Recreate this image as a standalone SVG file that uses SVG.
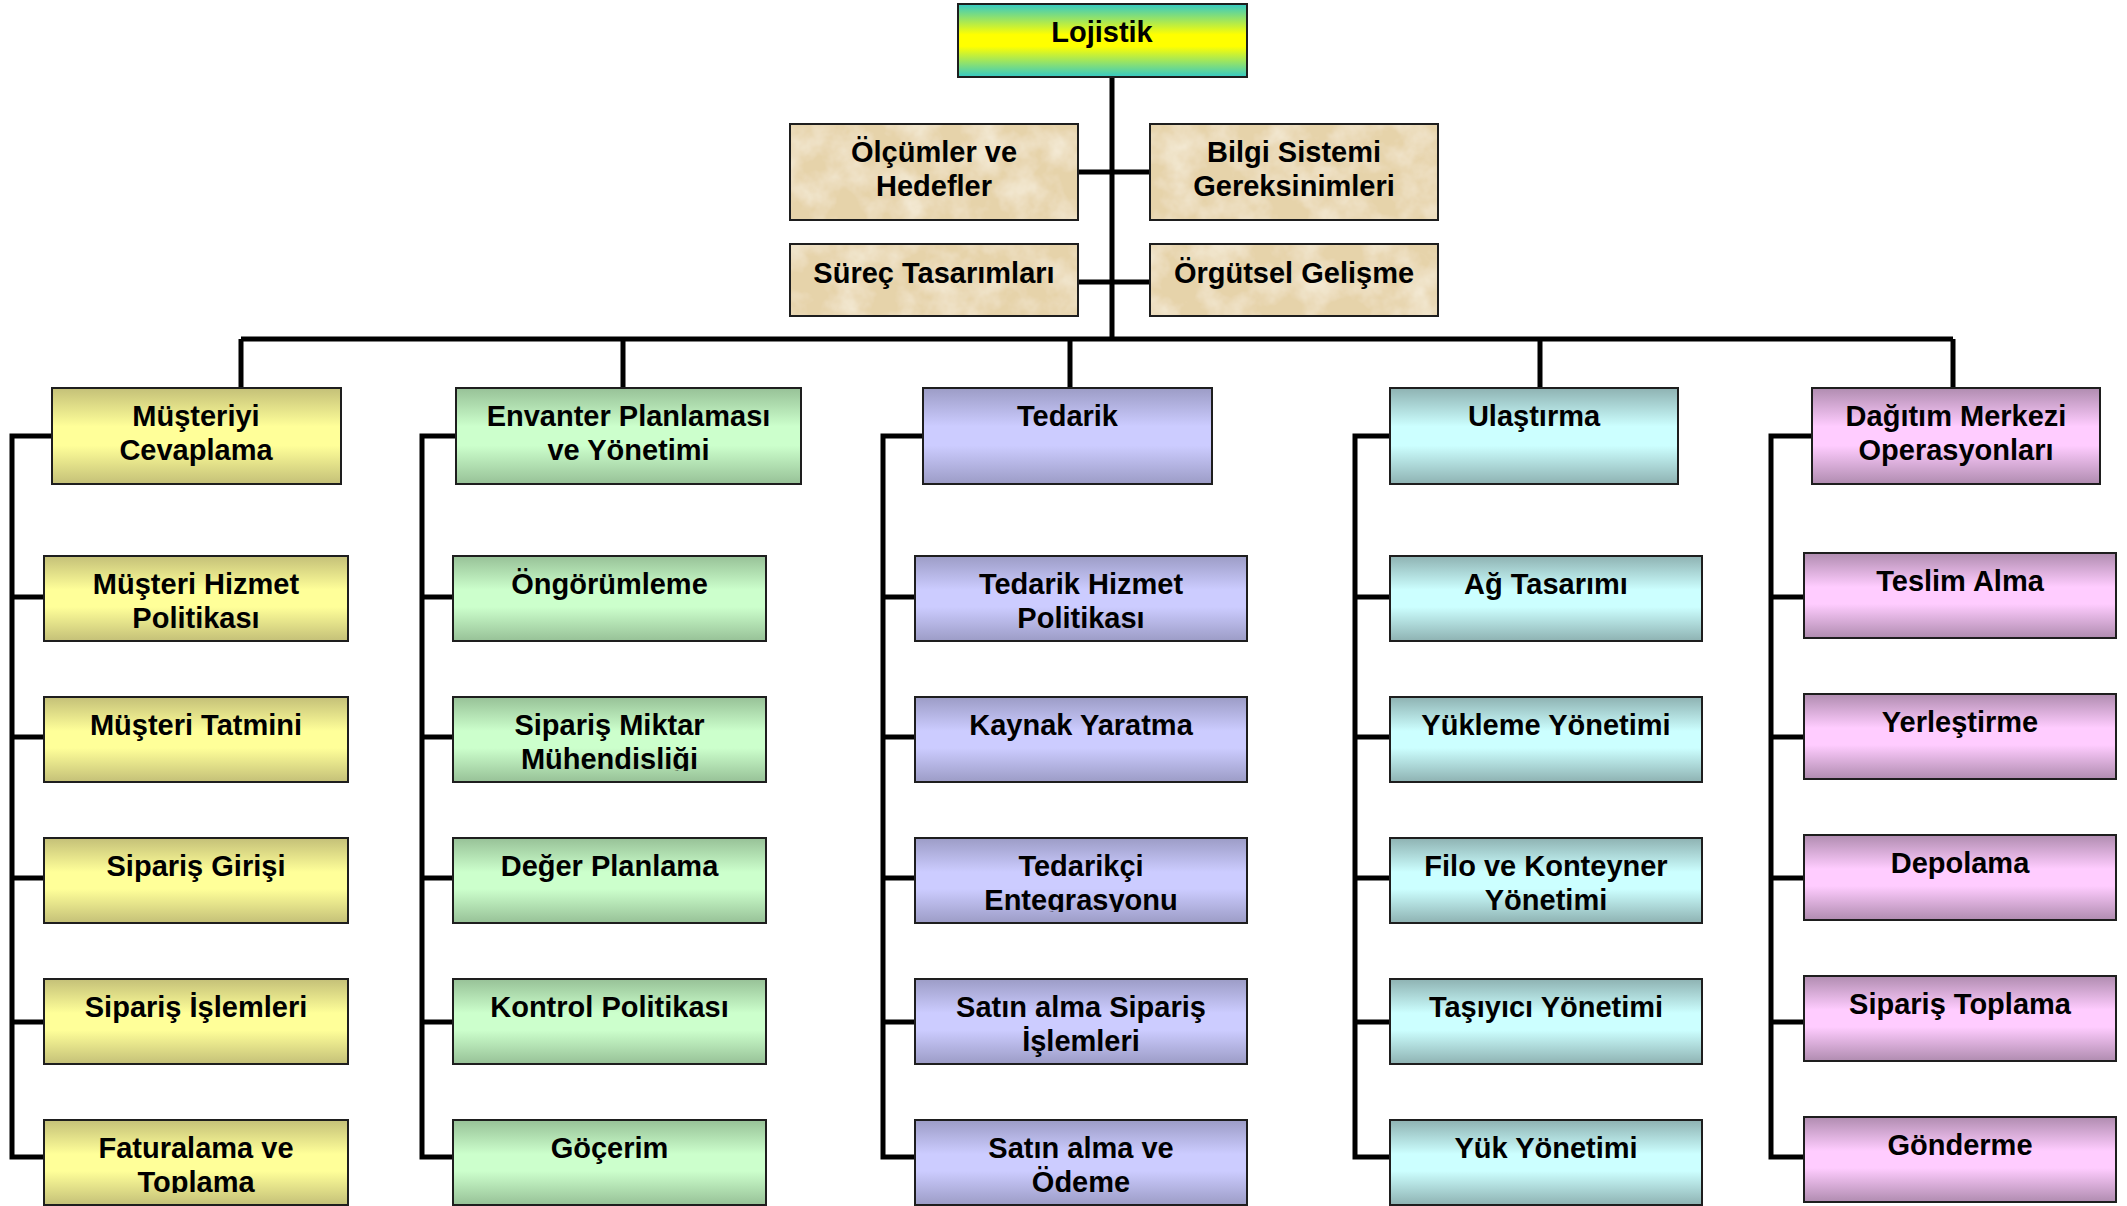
<svg xmlns="http://www.w3.org/2000/svg" width="2127" height="1206" viewBox="0 0 2127 1206">
  <style>
    .box { stroke: #1e1e1e; stroke-width: 2; }
    .lbl { font-family: "Liberation Sans", Arial, sans-serif; font-weight: bold; font-size: 29px; fill: #000; text-anchor: middle; }
    .wire { fill: none; stroke: #000; stroke-width: 5; stroke-linejoin: miter; }
  </style>
  <defs>
    <linearGradient id="gTop" x1="0" y1="0" x2="0" y2="1">
      <stop offset="0" stop-color="#33c9c6"/>
      <stop offset="0.42" stop-color="#ffff00"/>
      <stop offset="0.58" stop-color="#ffff00"/>
      <stop offset="1" stop-color="#33c9c6"/>
    </linearGradient>
    <linearGradient id="gYellow" x1="0" y1="0" x2="0" y2="1">
      <stop offset="0" stop-color="#c4c078"/>
      <stop offset="0.4" stop-color="#ffff99"/>
      <stop offset="0.6" stop-color="#ffff99"/>
      <stop offset="1" stop-color="#c4c078"/>
    </linearGradient>
    <linearGradient id="gGreen" x1="0" y1="0" x2="0" y2="1">
      <stop offset="0" stop-color="#97c197"/>
      <stop offset="0.4" stop-color="#ccffcc"/>
      <stop offset="0.6" stop-color="#ccffcc"/>
      <stop offset="1" stop-color="#97c197"/>
    </linearGradient>
    <linearGradient id="gLilac" x1="0" y1="0" x2="0" y2="1">
      <stop offset="0" stop-color="#9c9cc6"/>
      <stop offset="0.4" stop-color="#ccccff"/>
      <stop offset="0.6" stop-color="#ccccff"/>
      <stop offset="1" stop-color="#9c9cc6"/>
    </linearGradient>
    <linearGradient id="gCyan" x1="0" y1="0" x2="0" y2="1">
      <stop offset="0" stop-color="#8eb2b2"/>
      <stop offset="0.4" stop-color="#ccffff"/>
      <stop offset="0.6" stop-color="#ccffff"/>
      <stop offset="1" stop-color="#8eb2b2"/>
    </linearGradient>
    <linearGradient id="gPink" x1="0" y1="0" x2="0" y2="1">
      <stop offset="0" stop-color="#b08cb0"/>
      <stop offset="0.4" stop-color="#ffccff"/>
      <stop offset="0.6" stop-color="#ffccff"/>
      <stop offset="1" stop-color="#b08cb0"/>
    </linearGradient>
    <!-- mottled paper look for the support boxes -->
    <filter id="parchment" x="0" y="0" width="1" height="1">
      <feTurbulence type="fractalNoise" baseFrequency="0.03" numOctaves="4" seed="7" result="noise"/>
      <feColorMatrix in="noise" type="matrix" values="0 0 0 0 0.96  0 0 0 0 0.91  0 0 0 0 0.80  1.3 0 0 0 -0.5" result="spots"/>
      <feMerge>
        <feMergeNode in="SourceGraphic"/>
        <feMergeNode in="spots"/>
      </feMerge>
    </filter>
    <clipPath id="clipFat"><rect x="44" y="1120" width="304" height="73"/></clipPath>
    <clipPath id="clipMik"><rect x="453" y="697" width="313" height="74"/></clipPath>
    <clipPath id="clipEnt"><rect x="915" y="838" width="332" height="74"/></clipPath>
  </defs>

  <!-- connectors -->
  <g id="connectors">
    <path class="wire" d="M1112,77 V339"/>
    <path class="wire" d="M1078,172 H1150 M1078,282 H1150"/>
    <path class="wire" d="M241,339 H1953"/>
    <path class="wire" d="M241,339 V388 M623,339 V388 M1070,339 V388 M1540,339 V388 M1953,339 V388"/>
    <!-- column 1 -->
    <path class="wire" d="M52,436 H12 V1157 H44 M12,597 H44 M12,737 H44 M12,878 H44 M12,1022 H44"/>
    <!-- column 2 -->
    <path class="wire" d="M456,436 H422 V1157 H453 M422,597 H453 M422,737 H453 M422,878 H453 M422,1022 H453"/>
    <!-- column 3 -->
    <path class="wire" d="M923,436 H883 V1157 H915 M883,597 H915 M883,737 H915 M883,878 H915 M883,1022 H915"/>
    <!-- column 4 -->
    <path class="wire" d="M1390,436 H1355 V1157 H1390 M1355,597 H1390 M1355,737 H1390 M1355,878 H1390 M1355,1022 H1390"/>
    <!-- column 5 -->
    <path class="wire" d="M1812,436 H1771 V1157 H1804 M1771,597 H1804 M1771,737 H1804 M1771,878 H1804 M1771,1022 H1804"/>
  </g>

  <!-- root -->
  <g id="lojistik">
    <rect class="box" x="958" y="4" width="289" height="73" fill="url(#gTop)"/>
    <text class="lbl" x="1102" y="42">Lojistik</text>
  </g>

  <!-- support boxes -->
  <g id="olcumler">
    <rect class="box" x="790" y="124" width="288" height="96" fill="#e6d3aa" filter="url(#parchment)"/>
    <rect class="box" x="790" y="124" width="288" height="96" fill="none"/>
    <text class="lbl" x="934" y="162">Ölçümler ve</text>
    <text class="lbl" x="934" y="196">Hedefler</text>
  </g>
  <g id="bilgi-sistemi">
    <rect class="box" x="1150" y="124" width="288" height="96" fill="#e6d3aa" filter="url(#parchment)"/>
    <rect class="box" x="1150" y="124" width="288" height="96" fill="none"/>
    <text class="lbl" x="1294" y="162">Bilgi Sistemi</text>
    <text class="lbl" x="1294" y="196">Gereksinimleri</text>
  </g>
  <g id="surec">
    <rect class="box" x="790" y="244" width="288" height="72" fill="#e6d3aa" filter="url(#parchment)"/>
    <rect class="box" x="790" y="244" width="288" height="72" fill="none"/>
    <text class="lbl" x="934" y="283">Süreç Tasarımları</text>
  </g>
  <g id="orgutsel">
    <rect class="box" x="1150" y="244" width="288" height="72" fill="#e6d3aa" filter="url(#parchment)"/>
    <rect class="box" x="1150" y="244" width="288" height="72" fill="none"/>
    <text class="lbl" x="1294" y="283">Örgütsel Gelişme</text>
  </g>

  <!-- column 1: customer response -->
  <g id="musteriyi-cevaplama">
    <rect class="box" x="52" y="388" width="289" height="96" fill="url(#gYellow)"/>
    <text class="lbl" x="196" y="426">Müşteriyi</text>
    <text class="lbl" x="196" y="460">Cevaplama</text>
  </g>
  <g id="musteri-hizmet">
    <rect class="box" x="44" y="556" width="304" height="85" fill="url(#gYellow)"/>
    <text class="lbl" x="196" y="594">Müşteri Hizmet</text>
    <text class="lbl" x="196" y="628">Politikası</text>
  </g>
  <g id="musteri-tatmini">
    <rect class="box" x="44" y="697" width="304" height="85" fill="url(#gYellow)"/>
    <text class="lbl" x="196" y="735">Müşteri Tatmini</text>
  </g>
  <g id="siparis-girisi">
    <rect class="box" x="44" y="838" width="304" height="85" fill="url(#gYellow)"/>
    <text class="lbl" x="196" y="876">Sipariş Girişi</text>
  </g>
  <g id="siparis-islemleri">
    <rect class="box" x="44" y="979" width="304" height="85" fill="url(#gYellow)"/>
    <text class="lbl" x="196" y="1017">Sipariş İşlemleri</text>
  </g>
  <g id="faturalama">
    <rect class="box" x="44" y="1120" width="304" height="85" fill="url(#gYellow)"/>
    <g clip-path="url(#clipFat)">
      <text class="lbl" x="196" y="1158">Faturalama ve</text>
      <text class="lbl" x="196" y="1192">Toplama</text>
    </g>
  </g>

  <!-- column 2: inventory -->
  <g id="envanter">
    <rect class="box" x="456" y="388" width="345" height="96" fill="url(#gGreen)"/>
    <text class="lbl" x="628.5" y="426">Envanter Planlaması</text>
    <text class="lbl" x="628.5" y="460">ve Yönetimi</text>
  </g>
  <g id="ongorumleme">
    <rect class="box" x="453" y="556" width="313" height="85" fill="url(#gGreen)"/>
    <text class="lbl" x="609.5" y="594">Öngörümleme</text>
  </g>
  <g id="siparis-miktar">
    <rect class="box" x="453" y="697" width="313" height="85" fill="url(#gGreen)"/>
    <g clip-path="url(#clipMik)">
      <text class="lbl" x="609.5" y="735">Sipariş Miktar</text>
      <text class="lbl" x="609.5" y="769">Mühendisliği</text>
    </g>
  </g>
  <g id="deger-planlama">
    <rect class="box" x="453" y="838" width="313" height="85" fill="url(#gGreen)"/>
    <text class="lbl" x="609.5" y="876">Değer Planlama</text>
  </g>
  <g id="kontrol-politikasi">
    <rect class="box" x="453" y="979" width="313" height="85" fill="url(#gGreen)"/>
    <text class="lbl" x="609.5" y="1017">Kontrol Politikası</text>
  </g>
  <g id="gocerim">
    <rect class="box" x="453" y="1120" width="313" height="85" fill="url(#gGreen)"/>
    <text class="lbl" x="609.5" y="1158">Göçerim</text>
  </g>

  <!-- column 3: procurement -->
  <g id="tedarik">
    <rect class="box" x="923" y="388" width="289" height="96" fill="url(#gLilac)"/>
    <text class="lbl" x="1067.5" y="426">Tedarik</text>
  </g>
  <g id="tedarik-hizmet">
    <rect class="box" x="915" y="556" width="332" height="85" fill="url(#gLilac)"/>
    <text class="lbl" x="1081" y="594">Tedarik Hizmet</text>
    <text class="lbl" x="1081" y="628">Politikası</text>
  </g>
  <g id="kaynak-yaratma">
    <rect class="box" x="915" y="697" width="332" height="85" fill="url(#gLilac)"/>
    <text class="lbl" x="1081" y="735">Kaynak Yaratma</text>
  </g>
  <g id="tedarikci-entegrasyonu">
    <rect class="box" x="915" y="838" width="332" height="85" fill="url(#gLilac)"/>
    <g clip-path="url(#clipEnt)">
      <text class="lbl" x="1081" y="876">Tedarikçi</text>
      <text class="lbl" x="1081" y="910">Entegrasyonu</text>
    </g>
  </g>
  <g id="satin-alma-siparis">
    <rect class="box" x="915" y="979" width="332" height="85" fill="url(#gLilac)"/>
    <text class="lbl" x="1081" y="1017">Satın alma Sipariş</text>
    <text class="lbl" x="1081" y="1051">İşlemleri</text>
  </g>
  <g id="satin-alma-odeme">
    <rect class="box" x="915" y="1120" width="332" height="85" fill="url(#gLilac)"/>
    <text class="lbl" x="1081" y="1158">Satın alma ve</text>
    <text class="lbl" x="1081" y="1192">Ödeme</text>
  </g>

  <!-- column 4: transportation -->
  <g id="ulastirma">
    <rect class="box" x="1390" y="388" width="288" height="96" fill="url(#gCyan)"/>
    <text class="lbl" x="1534" y="426">Ulaştırma</text>
  </g>
  <g id="ag-tasarimi">
    <rect class="box" x="1390" y="556" width="312" height="85" fill="url(#gCyan)"/>
    <text class="lbl" x="1546" y="594">Ağ Tasarımı</text>
  </g>
  <g id="yukleme-yonetimi">
    <rect class="box" x="1390" y="697" width="312" height="85" fill="url(#gCyan)"/>
    <text class="lbl" x="1546" y="735">Yükleme Yönetimi</text>
  </g>
  <g id="filo-konteyner">
    <rect class="box" x="1390" y="838" width="312" height="85" fill="url(#gCyan)"/>
    <text class="lbl" x="1546" y="876">Filo ve Konteyner</text>
    <text class="lbl" x="1546" y="910">Yönetimi</text>
  </g>
  <g id="tasiyici-yonetimi">
    <rect class="box" x="1390" y="979" width="312" height="85" fill="url(#gCyan)"/>
    <text class="lbl" x="1546" y="1017">Taşıyıcı Yönetimi</text>
  </g>
  <g id="yuk-yonetimi">
    <rect class="box" x="1390" y="1120" width="312" height="85" fill="url(#gCyan)"/>
    <text class="lbl" x="1546" y="1158">Yük Yönetimi</text>
  </g>

  <!-- column 5: distribution centre -->
  <g id="dagitim-merkezi">
    <rect class="box" x="1812" y="388" width="288" height="96" fill="url(#gPink)"/>
    <text class="lbl" x="1956" y="426">Dağıtım Merkezi</text>
    <text class="lbl" x="1956" y="460">Operasyonları</text>
  </g>
  <g id="teslim-alma">
    <rect class="box" x="1804" y="553" width="312" height="85" fill="url(#gPink)"/>
    <text class="lbl" x="1960" y="591">Teslim Alma</text>
  </g>
  <g id="yerlestirme">
    <rect class="box" x="1804" y="694" width="312" height="85" fill="url(#gPink)"/>
    <text class="lbl" x="1960" y="732">Yerleştirme</text>
  </g>
  <g id="depolama">
    <rect class="box" x="1804" y="835" width="312" height="85" fill="url(#gPink)"/>
    <text class="lbl" x="1960" y="873">Depolama</text>
  </g>
  <g id="siparis-toplama">
    <rect class="box" x="1804" y="976" width="312" height="85" fill="url(#gPink)"/>
    <text class="lbl" x="1960" y="1014">Sipariş Toplama</text>
  </g>
  <g id="gonderme">
    <rect class="box" x="1804" y="1117" width="312" height="85" fill="url(#gPink)"/>
    <text class="lbl" x="1960" y="1155">Gönderme</text>
  </g>
</svg>
